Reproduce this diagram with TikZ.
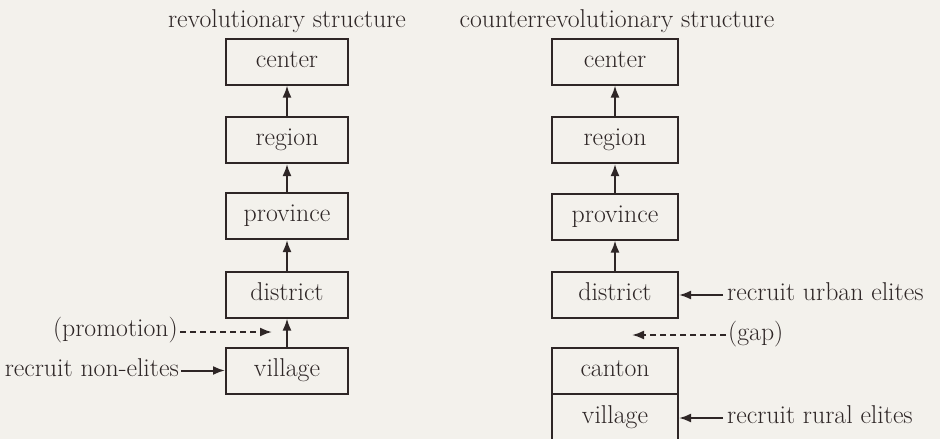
\documentclass[tikz,border=0pt]{standalone}
\usetikzlibrary{arrows.meta}
\definecolor{paper}{HTML}{F3F1EC}
\definecolor{ink}{HTML}{2E2626}
\begin{document}
\begin{tikzpicture}[x=1pt,y=-1pt,
  every node/.style={text=ink, font=\fontsize{25.8}{30}\selectfont},
  lbl/.style={inner sep=2pt, text height=17pt, text depth=5.5pt},
  lvl/.style={draw=ink, line width=2pt, minimum width=#1, minimum height=46pt,
    inner sep=0pt, text height=17pt, text depth=5.5pt},
  lvl/.default=122pt,
  up/.style={draw=ink, line width=2pt, -{Latex[length=12pt,width=9pt]}},
  feed/.style={draw=ink, line width=2pt, -{Latex[length=12pt,width=9pt]}},
  hint/.style={draw=ink, line width=2pt, dash pattern=on 6pt off 4pt,
    -{Latex[length=12pt,width=9pt]}}]
\clip (0,0) rectangle (940,439);
\fill[paper] (0,0) rectangle (940,439);

% revolutionary structure
\node[lbl] (ltitle) at (287,22) {revolutionary structure};
\node[lvl] (lc) at (287,61.5) {center};
\node[lvl] (lr) at (287,140) {region};
\node[lvl] (lp) at (287,216) {province};
\node[lvl] (ld) at (287,294.5) {district};
\node[lvl] (lv) at (287,370.5) {village};
\draw[up] (lr) -- (lc);
\draw[up] (lp) -- (lr);
\draw[up] (ld) -- (lp);
\draw[up] (lv) -- (ld);
\node[lbl, anchor=east] (promo) at (180,331) {(promotion)};
\coordinate (promoend) at (272,332);
\draw[hint] (promo.east |- promoend) -- (promoend);
\node[lbl, anchor=east] (nonel) at (181,370.5) {recruit non-elites};
\draw[feed] (nonel.east) -- (lv.west);

% counterrevolutionary structure
\node[lbl] (rtitle) at (617,22) {counterrevolutionary structure};
\node[lvl=126pt] (rc) at (615,61.5) {center};
\node[lvl=126pt] (rr) at (615,140) {region};
\node[lvl=126pt] (rp) at (615,216.5) {province};
\node[lvl=126pt] (rd) at (615,295) {district};
\node[lvl=126pt] (rk) at (615,371) {canton};
\node[lvl=126pt, minimum height=48pt] (rv) at (615,418) {village};
\draw[up] (rr) -- (rc);
\draw[up] (rp) -- (rr);
\draw[up] (rd) -- (rp);
\node[lbl, anchor=west, inner sep=4pt] (urban) at (723,295) {recruit urban elites};
\draw[feed] (urban.west) -- (rd.east);
\node[lbl, anchor=west] (gap) at (726,335) {(gap)};
\coordinate (gapend) at (632,335);
\draw[hint] (gap.west) -- (gapend);
\node[lbl, anchor=west, inner sep=4pt] (rural) at (723,418) {recruit rural elites};
\draw[feed] (rural.west) -- (rural.west -| rv.east);
\end{tikzpicture}
\end{document}
